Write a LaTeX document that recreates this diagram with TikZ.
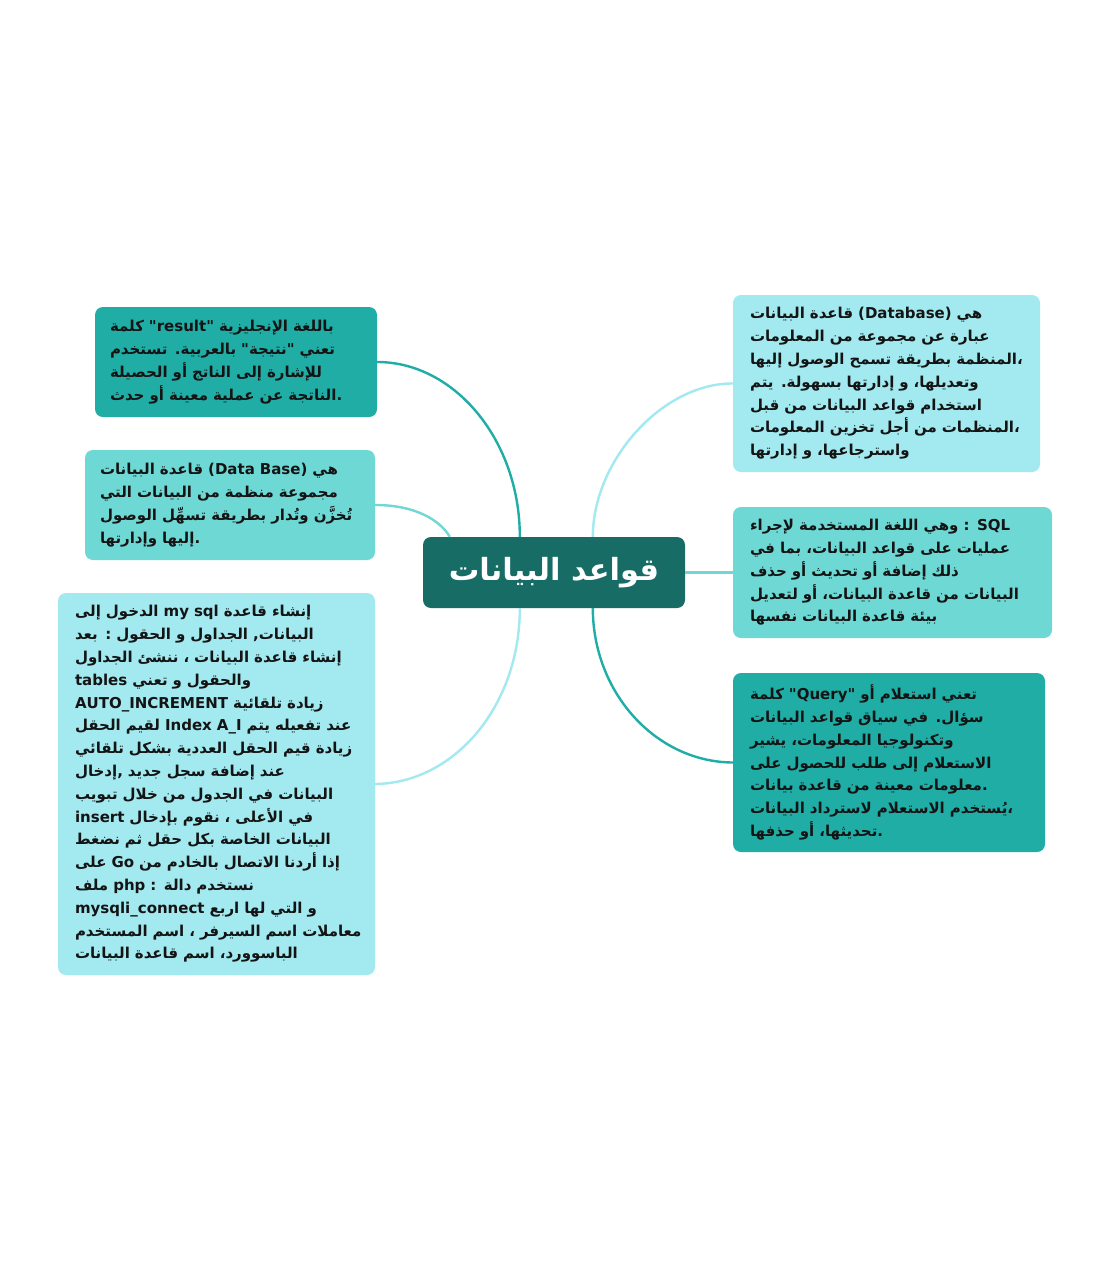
\documentclass[tikz,border=0pt]{standalone}
\usepackage{fontspec}
\TeXXeTstate=1
\newfontfamily\arabicfont[Script=Arabic]{DejaVu Sans}
\newcommand{\AR}[1]{\beginR #1\endR}
\definecolor{cDark}{HTML}{176C66}
\definecolor{cTeal}{HTML}{1FADA6}
\definecolor{cMed}{HTML}{6ED8D5}
\definecolor{cLight}{HTML}{A2E9F0}
\definecolor{cText}{HTML}{141414}
\begin{document}
\begin{tikzpicture}[x=1pt,y=-1pt,
  box/.style={rounded corners=8pt, inner xsep=17pt, inner ysep=0pt, align=left,
    font=\arabicfont\bfseries\fontsize{15}{22.8}\selectfont, text=cText},
  conn/.style={line width=2.4pt}]
\useasboundingbox (0,0) rectangle (1107,1280);
\fill[white] (0,0) rectangle (1107,1280);

% central node
\node[rounded corners=8pt, fill=cDark, text=white, minimum width=262pt, minimum height=71pt,
  font=\arabicfont\bfseries\fontsize{30.5}{36}\selectfont] (c) at (554,572.5) {\AR{قواعد البيانات}};

% right top
\node[box, fill=cLight, minimum width=307pt, minimum height=177pt, text width=273pt] (dbr) at (886.5,383.5) {%
\mbox{\AR{قاعدة البيانات} (Database) \AR{هي}}\\
\mbox{\AR{عبارة عن مجموعة من المعلومات}}\\
\mbox{\AR{المنظمة بطريقة تسمح الوصول إليها}،}\\
\mbox{\AR{وتعديلها، و إدارتها بسهولة. يتم}}\\
\mbox{\AR{استخدام قواعد البيانات من قبل}}\\
\mbox{\AR{المنظمات من أجل تخزين المعلومات}،}\\
\mbox{\AR{واسترجاعها، و إدارتها}}};

% right middle
\node[box, fill=cMed, minimum width=319pt, minimum height=131pt, text width=285pt] (sql) at (892.5,572.5) {%
\mbox{\AR{وهي اللغة المستخدمة لإجراء} : SQL}\\
\mbox{\AR{عمليات على قواعد  البيانات، بما في}}\\
\mbox{\AR{ذلك إضافة أو تحديث أو حذف}}\\
\mbox{\AR{البيانات من قاعدة البيانات، أو لتعديل}}\\
\mbox{\AR{بيئة قاعدة البيانات نفسها}}};

% right bottom
\node[box, fill=cTeal, minimum width=312pt, minimum height=179pt, text width=278pt] (qry) at (889,762.5) {%
\mbox{\AR{كلمة} "Query" \AR{تعني استعلام أو}}\\
\mbox{\AR{سؤال. في سياق قواعد البيانات}}\\
\mbox{\AR{وتكنولوجيا المعلومات، يشير}}\\
\mbox{\AR{الاستعلام إلى طلب للحصول على}}\\
\mbox{\AR{معلومات معينة من قاعدة بيانات}.}\\
\mbox{\AR{يُستخدم الاستعلام لاسترداد البيانات}،}\\
\mbox{\AR{تحديثها، أو حذفها}.}};

% left top
\node[box, fill=cTeal, inner xsep=15pt, minimum width=282pt, minimum height=110pt, text width=252pt] (res) at (236,362) {%
\mbox{\AR{كلمة} "result" \AR{باللغة الإنجليزية}}\\
\mbox{\AR{تعني "نتيجة" بالعربية. تستخدم}}\\
\mbox{\AR{للإشارة إلى الناتج أو الحصيلة}}\\
\mbox{\AR{الناتجة عن عملية معينة أو حدث}.}};

% left middle
\node[box, fill=cMed, inner xsep=15pt, minimum width=290pt, minimum height=110pt, text width=260pt] (dbl) at (230,505) {%
\mbox{\AR{قاعدة البيانات} (Data Base) \AR{هي}}\\
\mbox{\AR{مجموعة منظمة من البيانات التي}}\\
\mbox{\AR{تُخزَّن وتُدار بطريقة تسهِّل الوصول}}\\
\mbox{\AR{إليها وإدارتها}.}};

% left bottom
\node[box, fill=cLight, minimum width=317pt, minimum height=382pt, text width=283pt] (mys) at (216.5,784) {%
\mbox{\AR{الدخول إلى} my sql \AR{إنشاء قاعدة}}\\
\mbox{\AR{البيانات, الجداول و الحقول : بعد}}\\
\mbox{\AR{إنشاء قاعدة البيانات ، ننشئ الجداول}}\\
\mbox{tables \AR{والحقول و تعني}}\\
\mbox{AUTO\_INCREMENT \AR{زيادة تلقائية}}\\
\mbox{\AR{لقيم الحقل} Index A\_I \AR{عند تفعيله يتم}}\\
\mbox{\AR{زيادة قيم الحقل العددية بشكل تلقائي}}\\
\mbox{\AR{عند إضافة سجل جديد ,إدخال}}\\
\mbox{\AR{البيانات في الجدول من خلال تبويب}}\\
\mbox{insert \AR{في الأعلى ، نقوم بإدخال}}\\
\mbox{\AR{البيانات الخاصة بكل حقل ثم نضغط}}\\
\mbox{\AR{على} Go \AR{إذا أردنا الاتصال بالخادم من}}\\
\mbox{\AR{ملف} php : \AR{نستخدم دالة}}\\
\mbox{mysqli\_connect \AR{و التي لها اربع}}\\
\mbox{\AR{معاملات اسم السيرفر ، اسم المستخدم}}\\
\mbox{\AR{الباسوورد، اسم قاعدة البيانات}}};

% attachment points on the central node
\coordinate (tA) at ([xshift=97pt]c.north west);
\coordinate (tB) at ([xshift=27pt]c.north west);
\coordinate (tC) at ([xshift=170pt]c.north west);
\coordinate (bA) at ([xshift=97pt]c.south west);
\coordinate (bC) at ([xshift=170pt]c.south west);

% connectors
\draw[conn, cTeal] (res.east) .. controls (455,362) and (520,441) .. (tA);
\draw[conn, cMed] (dbl.east) .. controls (415,505) and (440,520) .. (tB);
\draw[conn, cLight] (tC) .. controls (593,460) and (663,383) .. (dbr.west);
\draw[conn, cMed] (c.east) -- (sql.west);
\draw[conn, cLight] (bA) .. controls (520,705) and (455,783) .. (mys.east);
\draw[conn, cTeal] (bC) .. controls (593,693) and (656,762) .. (qry.west);
\end{tikzpicture}
\end{document}
